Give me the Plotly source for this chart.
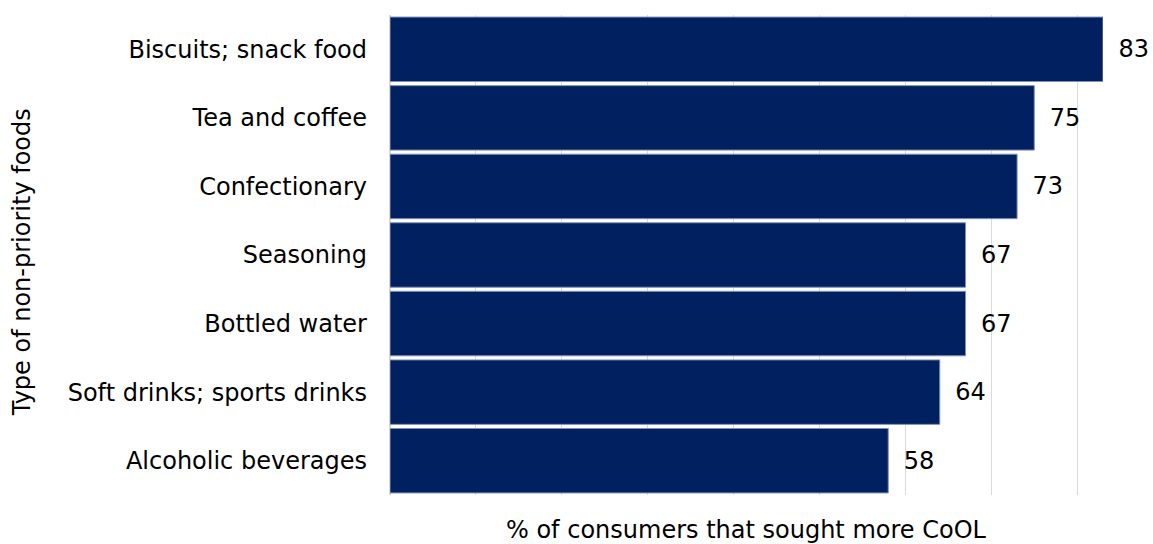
import plotly.graph_objects as go

categories = ["Biscuits; snack food", "Tea and coffee", "Confectionary", "Seasoning",
              "Bottled water", "Soft drinks; sports drinks", "Alcoholic beverages"]
values = [83, 75, 73, 67, 67, 64, 58]
x_title = "% of consumers that sought more CoOL"
y_title = "Type of non-priority foods"

FONT = "DejaVu Sans, Verdana, sans-serif"
NAVY = "#002060"
FS = 24

fig = go.Figure(go.Bar(
    x=values, y=categories, orientation="h",
    marker=dict(color=NAVY, line=dict(color="#8090B8", width=1)),
    text=[f" \u2009{v}" for v in values], textposition="outside",
    textfont=dict(family=FONT, size=FS, color="#000000"),
    cliponaxis=False, width=0.94,
))

fig.update_layout(
    width=1153, height=544,
    margin=dict(l=390, r=50, t=15, b=49),
    plot_bgcolor="white", paper_bgcolor="white",
    font=dict(family=FONT, size=FS, color="#000000"),
    showlegend=False,
    bargap=0.06,
    annotations=[
        dict(text=x_title, xref="paper", yref="paper", x=0.5, y=-0.073,
             xanchor="center", yanchor="middle", showarrow=False,
             font=dict(family=FONT, size=FS)),
        dict(text=y_title, xref="paper", yref="paper", x=-0.516, y=0.485,
             xanchor="center", yanchor="middle", textangle=-90, showarrow=False,
             font=dict(family=FONT, size=FS)),
    ],
)
fig.update_xaxes(
    range=[0, 83], dtick=10, tick0=0, showticklabels=False,
    showgrid=True, gridcolor="#D9D9D9", gridwidth=1,
    zeroline=True, zerolinecolor="#D9D9D9", zerolinewidth=2,
    showline=False, automargin=False,
)
fig.update_yaxes(
    categoryorder="array", categoryarray=categories[::-1],
    ticks="", ticklabelstandoff=22, showgrid=False, automargin=False,
    tickfont=dict(family=FONT, size=FS),
)

fig.write_html(
    "out.html",
    config={"displayModeBar": False},
    post_script="document.body.style.margin='0';document.body.style.overflow='hidden';",
)
